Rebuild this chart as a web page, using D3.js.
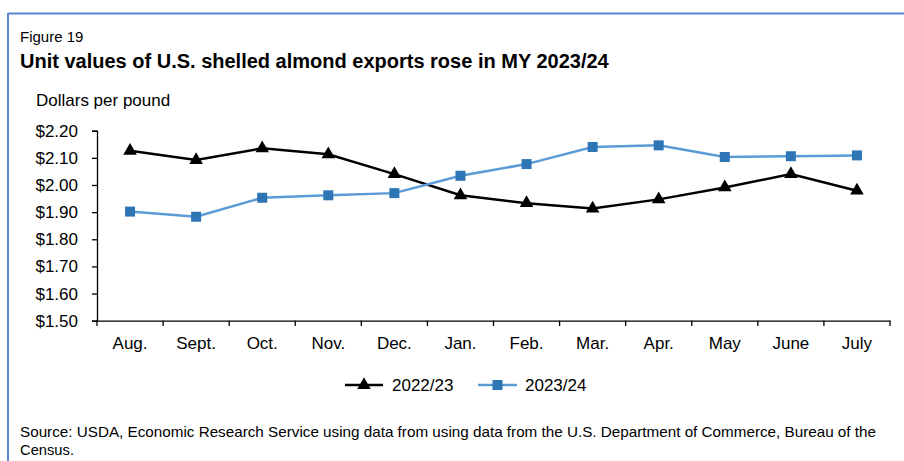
<!DOCTYPE html>
<html>
<head>
<meta charset="utf-8">
<script src="https://cdn.jsdelivr.net/npm/d3@7"></script>
<style>
  html, body { margin: 0; padding: 0; background: #fff; }
  svg text { font-family: "Liberation Sans", Arial, sans-serif; fill: #000; }
</style>
</head>
<body>
<svg id="chart" width="904" height="461"></svg>
<script>
const months = ["Aug.", "Sept.", "Oct.", "Nov.", "Dec.", "Jan.", "Feb.", "Mar.", "Apr.", "May", "June", "July"];
const values2223 = [2.126, 2.092, 2.135, 2.113, 2.040, 1.962, 1.933, 1.913, 1.947, 1.991, 2.040, 1.979];
const values2324 = [1.902, 1.883, 1.953, 1.962, 1.970, 2.034, 2.077, 2.140, 2.146, 2.103, 2.106, 2.109];
const yTicks = [1.5, 1.6, 1.7, 1.8, 1.9, 2.0, 2.1, 2.2];
const seriesNames = ["2022/23", "2023/24"];

const svg = d3.select("#chart");
const FS = 17;

// frame
svg.append("line").attr("x1", 8).attr("x2", 904).attr("y1", 13.5).attr("y2", 13.5)
  .attr("stroke", "#5b86d1").attr("stroke-width", 2);
svg.append("line").attr("x1", 8).attr("x2", 8).attr("y1", 13).attr("y2", 461)
  .attr("stroke", "#5b86d1").attr("stroke-width", 2);

svg.append("text").attr("x", 20).attr("y", 42).attr("font-size", 15).text("Figure 19");
svg.append("text").attr("x", 20).attr("y", 68).attr("font-size", 20).attr("font-weight", "bold")
  .text("Unit values of U.S. shelled almond exports rose in MY 2023/24");
svg.append("text").attr("x", 36).attr("y", 106).attr("font-size", FS).text("Dollars per pound");

const x = d3.scaleBand().domain(months).range([97, 890]);
const y = d3.scaleLinear().domain([1.5, 2.2]).range([320.7, 130.7]);

const yAxis = svg.append("g").attr("transform", "translate(97,0)")
  .call(d3.axisLeft(y).tickValues(yTicks).tickFormat(d => "$" + d.toFixed(2)).tickSize(5).tickPadding(14));
yAxis.select(".domain").attr("stroke", "#000").attr("stroke-width", 1.3);
yAxis.selectAll(".tick line").attr("stroke", "#000").attr("stroke-width", 1.3);
yAxis.selectAll(".tick text").attr("font-size", FS).attr("font-family", "Liberation Sans, Arial, sans-serif").attr("fill", "#000");

const xAxis = svg.append("g").attr("transform", "translate(0,320.7)")
  .call(d3.axisBottom(x).tickSize(0).tickPadding(16));
xAxis.select(".domain").attr("stroke", "#000").attr("stroke-width", 1.3);
xAxis.selectAll(".tick text").attr("font-size", FS).attr("font-family", "Liberation Sans, Arial, sans-serif").attr("fill", "#000");
// band boundary ticks
const bounds = months.map(m => x(m)).concat([x.range()[1]]);
svg.append("g").selectAll("line").data(bounds).join("line")
  .attr("x1", d => d).attr("x2", d => d).attr("y1", 320.7).attr("y2", 326)
  .attr("stroke", "#000").attr("stroke-width", 1.3);

const cx = m => x(m) + x.bandwidth() / 2;
const line = d3.line().x((d, i) => cx(months[i])).y(d => y(d));

const blueLine = "#5b9bd5", blueMark = "#2e75b6";

// 2022/23 black with triangles
svg.append("path").datum(values2223).attr("d", line).attr("fill", "none")
  .attr("stroke", "#000").attr("stroke-width", 2.5);
const tri = d3.symbol().type(d3.symbolTriangle).size(80);
svg.append("g").selectAll("path").data(values2223).join("path")
  .attr("d", tri).attr("transform", (d, i) => `translate(${cx(months[i])},${y(d)})`).attr("fill", "#000");

// 2023/24 blue with squares
svg.append("path").datum(values2324).attr("d", line).attr("fill", "none")
  .attr("stroke", blueLine).attr("stroke-width", 2.5);
svg.append("g").selectAll("rect").data(values2324).join("rect")
  .attr("x", (d, i) => cx(months[i]) - 5).attr("y", d => y(d) - 5)
  .attr("width", 10).attr("height", 10).attr("fill", blueMark);

// legend
const ly = 385;
const lg = svg.append("g");
lg.append("line").attr("x1", 345).attr("x2", 383).attr("y1", ly).attr("y2", ly).attr("stroke", "#000").attr("stroke-width", 2.5);
lg.append("path").attr("d", tri).attr("transform", `translate(364,${ly})`).attr("fill", "#000");
lg.append("text").attr("x", 392).attr("y", ly + 6).attr("font-size", FS).text(seriesNames[0]);
lg.append("line").attr("x1", 478).attr("x2", 517).attr("y1", ly).attr("y2", ly).attr("stroke", blueLine).attr("stroke-width", 2.5);
lg.append("rect").attr("x", 492.5).attr("y", ly - 5).attr("width", 10).attr("height", 10).attr("fill", blueMark);
lg.append("text").attr("x", 525).attr("y", ly + 6).attr("font-size", FS).text(seriesNames[1]);

// source
svg.append("text").attr("x", 20).attr("y", 437).attr("font-size", 14.5)
  .attr("textLength", 856).attr("lengthAdjust", "spacingAndGlyphs")
  .text("Source: USDA, Economic Research Service using data from using data from the U.S. Department of Commerce, Bureau of the");
svg.append("text").attr("x", 20).attr("y", 455).attr("font-size", 14.5)
  .attr("textLength", 54).attr("lengthAdjust", "spacingAndGlyphs")
  .text("Census.");
</script>
</body>
</html>
